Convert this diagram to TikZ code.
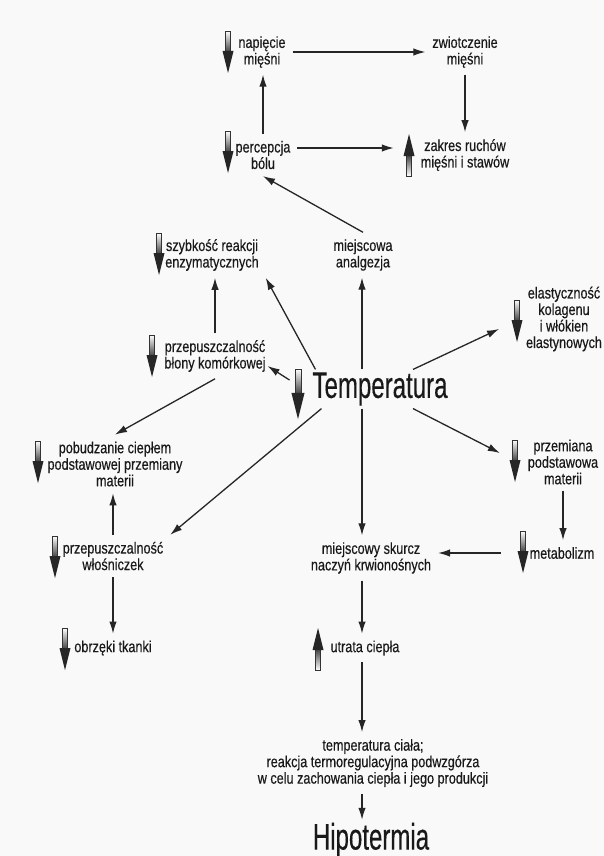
\documentclass[tikz,border=0pt]{standalone}
\usepackage{fontspec}
\setmainfont{Liberation Sans}[FakeStretch=0.79,FakeBold=0.4]
\newfontfamily\bigsans{Liberation Sans}[FakeStretch=0.65,FakeBold=0.3]
\usetikzlibrary{calc,arrows.meta}

\begin{document}
\begin{tikzpicture}[x=1pt,y=-1pt]

\tikzstyle{opis} = [align=center, inner sep=1pt, outer sep=6pt, text=black!90, font=\fontsize{16}{16.5}\selectfont]
\tikzstyle{glowny} = [inner sep=1pt, outer sep=2pt, text=black!90, font=\bigsans\fontsize{37}{40}\selectfont]
\tikzstyle{strz} = [-{Latex[length=12pt,width=7.5pt]}, line width=1.3pt, draw=black!85]

\tikzset{
  spadek/.pic={
    \shade[top color=white, bottom color=black!75, draw=black!80, line width=0.6pt] (-2.5,-21) rectangle (2.5,0);
    \fill[black!85] (-5.5,-1) -- (5.5,-1) -- (0,21) -- cycle;
  },
  wzrost/.pic={
    \shade[top color=black!75, bottom color=white, draw=black!80, line width=0.6pt] (-2.5,0) rectangle (2.5,21);
    \fill[black!85] (-5.5,1) -- (5.5,1) -- (0,-21) -- cycle;
  }
}

\useasboundingbox (0,0) rectangle (604,856);
\fill[gray!5] (0,0) rectangle (604,856);

\node[opis] (napiecie) at (262,52) {napięcie\\mięśni};
\node[opis] (zwiotcz) at (465,52) {zwiotczenie\\mięśni};
\node[opis] (percep) at (263,155) {percepcja\\bólu};
\node[opis] (zakres) at (465,155) {zakres ruchów\\mięśni i stawów};
\node[opis] (szybk) at (212,255) {szybkość reakcji\\enzymatycznych};
\node[opis] (analg) at (363,255) {miejscowa\\analgezja};
\node[opis] (elast) at (564,319) {elastyczność\\kolagenu\\i włókien\\elastynowych};
\node[opis] (blony) at (215,356) {przepuszczalność\\błony komórkowej};
\node[glowny] (temp) at (380,389) {Temperatura};
\node[opis] (pobudz) at (115,464) {pobudzanie ciepłem\\podstawowej przemiany\\materii};
\node[opis] (przem) at (563,462) {przemiana\\podstawowa\\materii};
\node[opis] (wlosn) at (113,556) {przepuszczalność\\włośniczek};
\node[opis] (skurcz) at (371,558) {miejscowy skurcz\\naczyń krwionośnych};
\node[opis] (metab) at (562,553) {metabolizm};
\node[opis] (obrzeki) at (113,648) {obrzęki tkanki};
\node[opis] (utrata) at (365,648) {utrata ciepła};
\node[opis] (cialo) at (373,763) {temperatura ciała;\\reakcja termoregulacyjna podwzgórza\\w celu zachowania ciepła i jego produkcji};
\node[glowny] (hipot) at (371,840) {Hipotermia};

\coordinate (os) at (362,0);

\pic at (228,52) {spadek};
\pic at (228,152) {spadek};
\pic at (409,155) {wzrost};
\pic at (159,254) {spadek};
\pic at (517,321) {spadek};
\pic at (152,356) {spadek};
\pic[scale=1.2] at (298,394) {spadek};
\pic at (38,462) {spadek};
\pic at (515,461) {spadek};
\pic at (55,557) {spadek};
\pic at (523,552) {spadek};
\pic at (65,649) {spadek};
\pic at (318,649) {wzrost};

\draw[strz] (napiecie.east) -- (zwiotcz.west);
\draw[strz] (zwiotcz.south) -- (zakres.north);
\draw[strz] (percep.north) -- (percep.north |- napiecie.south);
\draw[strz] ($(percep.east)+(0,-7)$) -- ($(zakres.west)+(-20,-7)$);
\draw[strz] (analg.north) -- (percep.south);
\draw[strz] (temp.north -| os) -- (analg.south -| os);
\draw[strz] ($(temp.north west)+(6,0)$) -- (szybk.south east);
\draw[strz] (blony.north) -- (blony.north |- szybk.south);
\draw[strz] ($(temp.north)+(33,0)$) -- ($(elast.west)+(-20,10)$);
\draw[strz] ($(temp.west)+(-20,-9)$) -- ($(blony.east)+(-5,10)$);
\draw[strz] (blony.south) -- (pobudz.north);
\draw[strz] ($(temp.south west)+(12,0)$) -- (wlosn.north east);
\draw[strz] ($(temp.south)+(33,0)$) -- ($(przem.west)+(-21,-9)$);
\draw[strz] (przem.south) -- (przem.south |- metab.north);
\draw[strz] ($(metab.west)+(-22,0)$) -- (skurcz.east |- metab.west);
\draw[strz] (wlosn.north) -- (wlosn.north |- pobudz.south);
\draw[strz] (wlosn.south) -- (wlosn.south |- obrzeki.north);
\draw[strz] (temp.south -| os) -- (skurcz.north -| os);
\draw[strz] (skurcz.south -| os) -- (utrata.north -| os);
\draw[strz] (utrata.south -| os) -- (cialo.north -| os);
\draw[strz] (cialo.south -| os) -- (hipot.north -| os);

\end{tikzpicture}
\end{document}
